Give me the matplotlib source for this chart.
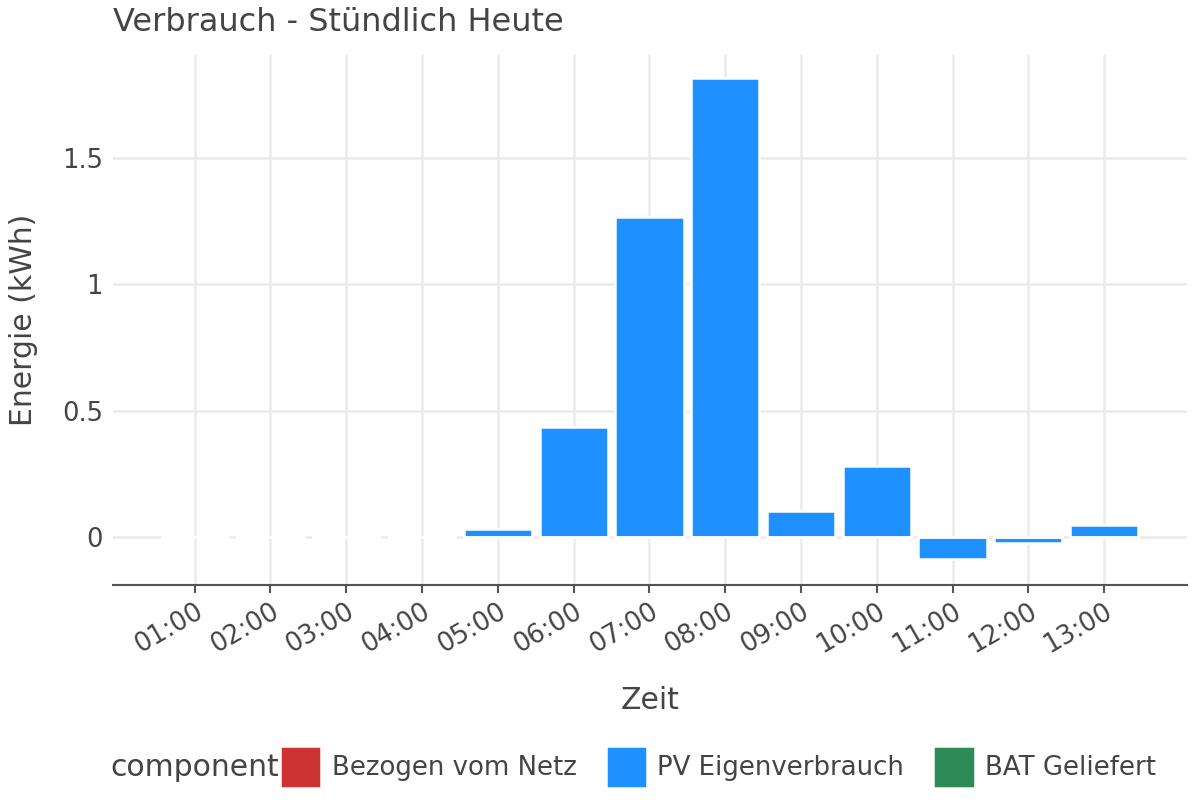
import matplotlib.pyplot as plt
import numpy as np

hours = ["01:00", "02:00", "03:00", "04:00", "05:00", "06:00", "07:00",
         "08:00", "09:00", "10:00", "11:00", "12:00", "13:00"]
netz = [0, 0, 0, 0, 0, 0, 0, 0, 0, 0, 0, 0, 0]
pv = [0, 0, 0, 0, 0.03, 0.435, 1.266, 1.816, 0.103, 0.281, -0.087, -0.024, 0.047]
bat = [0, 0, 0, 0, 0, 0, 0, 0, 0, 0, 0, 0, 0]

labels = ["Bezogen vom Netz", "PV Eigenverbrauch", "BAT Geliefert"]
colors = ["#CD3333", "#1E90FF", "#2E8B57"]
txt = "#444444"

fig = plt.figure(figsize=(12, 8), dpi=100)
ax = fig.add_axes([0.094, 0.269, 0.895, 0.662])

x = np.arange(1, len(hours) + 1)
handles = []
for vals, lab, col in zip([netz, pv, bat], labels, colors):
    b = ax.bar(x, vals, width=0.9, color=col, edgecolor="white", linewidth=1.8,
               label=lab, zorder=3)
    handles.append(b)

ax.set_xlim(x[0] - 1.08, x[-1] + 1.09)
ax.set_ylim(-0.19, 1.907)
ax.set_xticks(x)
ax.set_xticklabels(hours, rotation=30, ha="right", rotation_mode="anchor",
                   fontsize=18.5, color=txt)
ax.set_yticks([0, 0.5, 1, 1.5])
ax.set_yticklabels(["0", "0.5", "1", "1.5"], fontsize=18.5, color=txt)
ax.tick_params(axis="y", length=0, pad=7)
ax.tick_params(axis="x", length=6, width=1.5, color="#555555", pad=4)
ax.grid(True, color="#EBEBEB", linewidth=1.8, zorder=0)
ax.set_axisbelow(True)
for s in ["top", "right", "left"]:
    ax.spines[s].set_visible(False)
ax.spines["bottom"].set_color("#555555")
ax.spines["bottom"].set_linewidth(1.5)

ax.set_xlabel("Zeit", fontsize=21.5, color=txt, labelpad=20)
ax.set_ylabel("Energie (kWh)", fontsize=21.5, color=txt, labelpad=17)
fig.text(0.094, 0.972, "Verbrauch - Stündlich Heute", fontsize=23, color=txt,
         va="center", ha="left")

fig.text(0.092, 0.041, "component", fontsize=21.5, color=txt, va="center", ha="left")
leg = fig.legend(handles, labels, loc="center left", bbox_to_anchor=(0.233, 0.041),
                 ncol=3, frameon=False, fontsize=18.7, handlelength=1.6,
                 handleheight=2.13, handletextpad=0.4, columnspacing=1.12,
                 labelcolor=txt, borderpad=0, borderaxespad=0)

fig.savefig("out.png", dpi=100)
